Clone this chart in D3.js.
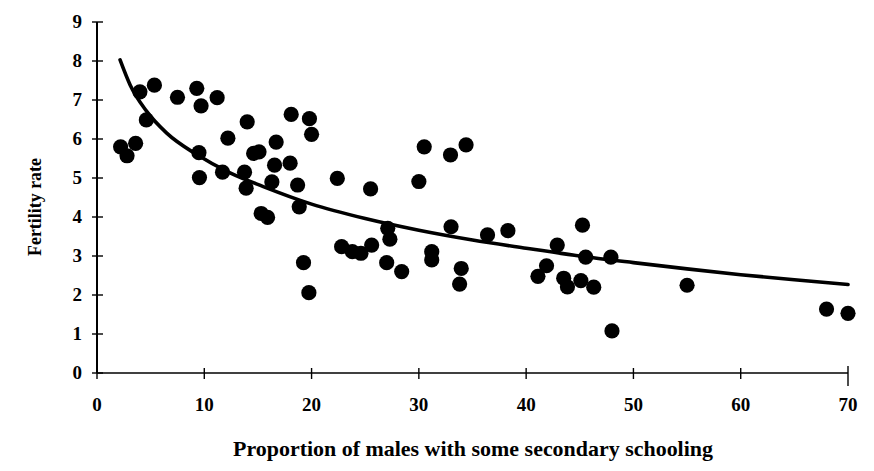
<!DOCTYPE html>
<html><head><meta charset="utf-8">
<script src="https://cdn.jsdelivr.net/npm/d3@7"></script>
<style>html,body{margin:0;padding:0;background:#fff;}svg{display:block;}</style>
</head><body>
<svg id="c" width="874" height="471"></svg>
<script>
// Scatter data
const schooling = [2.2,2.8,3.6,4.0,4.6,5.35,7.5,9.3,9.7,11.2,9.5,9.55,11.7,12.2,14.0,16.7,14.6,15.1,16.55,16.3,18.0,18.1,19.8,20.0,18.7,13.75,13.9,15.3,15.9,18.85,22.4,22.8,19.25,19.75,25.5,23.8,24.6,25.6,27.1,27.3,27.0,28.4,30.0,30.5,32.95,34.4,31.2,31.2,33.0,33.95,33.8,36.4,38.3,41.1,41.9,42.9,43.5,43.85,45.25,45.55,45.1,46.3,47.9,48.0,55.0,68.0,70.0];
const fertility = [5.8,5.57,5.89,7.21,6.49,7.38,7.07,7.3,6.85,7.06,5.65,5.01,5.15,6.02,6.44,5.92,5.63,5.67,5.33,4.9,5.38,6.63,6.52,6.12,4.82,5.15,4.74,4.09,3.99,4.26,4.99,3.24,2.83,2.06,4.72,3.11,3.07,3.28,3.71,3.43,2.83,2.6,4.91,5.8,5.59,5.85,3.11,2.9,3.75,2.68,2.28,3.54,3.65,2.48,2.75,3.28,2.43,2.21,3.79,2.97,2.37,2.2,2.97,1.08,2.25,1.64,1.53];
// Fitted trend curve
const trendX = [2.15,3.1,4.6,6.5,9.3,12.4,15.5,20,25,30,35,40,45,50,55,60,65,70];
const trendY = [8.03,7.38,6.72,6.15,5.6,5.13,4.78,4.33,3.96,3.66,3.41,3.2,3.0,2.83,2.67,2.52,2.39,2.27];
const xTicks = [0,10,20,30,40,50,60,70];
const yTicks = [0,1,2,3,4,5,6,7,8,9];

const svg = d3.select('#c');
const x = d3.scaleLinear().domain([0,70]).range([97,848]);
const y = d3.scaleLinear().domain([0,9]).range([373,22]);
const font = '"Liberation Serif","Times New Roman",serif';

// axes
const xAxis = svg.append('g').attr('transform','translate(0,373)')
  .call(d3.axisBottom(x).tickValues(xTicks).tickSize(0).tickPadding(0).tickFormat(''));
xAxis.select('.domain').attr('stroke','#000').attr('stroke-width',1.6).attr('d',`M${x(0)},0H${x(70)}`);
const yAxis = svg.append('g').attr('transform','translate(97,0)')
  .call(d3.axisLeft(y).tickValues(yTicks).tickSize(0).tickFormat(''));
yAxis.select('.domain').attr('stroke','#000').attr('stroke-width',2).attr('d',`M0,${y(0)}V${y(9)}`);

// tick marks crossing axes
svg.append('g').selectAll('line').data(xTicks).join('line')
  .attr('x1',d=>x(d)).attr('x2',d=>x(d))
  .attr('y1',d=>d===70?366:368).attr('y2',d=>d===70?386:379)
  .attr('stroke','#000').attr('stroke-width',1.4);
svg.append('g').selectAll('line').data(yTicks).join('line')
  .attr('x1',92).attr('x2',103)
  .attr('y1',d=>y(d)).attr('y2',d=>y(d))
  .attr('stroke','#000').attr('stroke-width',1.4);

// tick labels
svg.append('g').selectAll('text').data(xTicks).join('text')
  .attr('x',d=>x(d)).attr('y',411).attr('text-anchor','middle')
  .attr('font-family',font).attr('font-weight','bold').attr('font-size',19)
  .text(d=>d);
svg.append('g').selectAll('text').data(yTicks).join('text')
  .attr('x',82).attr('y',d=>y(d)+6).attr('text-anchor','end')
  .attr('font-family',font).attr('font-weight','bold').attr('font-size',19)
  .text(d=>d);

// axis titles
svg.append('text').attr('transform','translate(41,207) rotate(-90)')
  .attr('text-anchor','middle').attr('font-family',font).attr('font-weight','bold')
  .attr('font-size',18).attr('textLength',98).attr('lengthAdjust','spacingAndGlyphs')
  .text('Fertility rate');
svg.append('text').attr('x',473).attr('y',456).attr('text-anchor','middle')
  .attr('font-family',font).attr('font-weight','bold').attr('font-size',21)
  .attr('textLength',480).attr('lengthAdjust','spacingAndGlyphs')
  .text('Proportion of males with some secondary schooling');

// points
const pts = schooling.map((s,i)=>({s, f:fertility[i]}));
svg.append('g').selectAll('circle').data(pts).join('circle')
  .attr('cx',d=>x(d.s)).attr('cy',d=>y(d.f)).attr('r',7.6).attr('fill','#000');

// trend curve
const tr = trendX.map((v,i)=>[v,trendY[i]]);
svg.append('path').datum(tr)
  .attr('d',d3.line().x(d=>x(d[0])).y(d=>y(d[1])).curve(d3.curveMonotoneX))
  .attr('fill','none').attr('stroke','#000').attr('stroke-width',3.6).attr('stroke-linecap','round');
</script>
</body></html>
